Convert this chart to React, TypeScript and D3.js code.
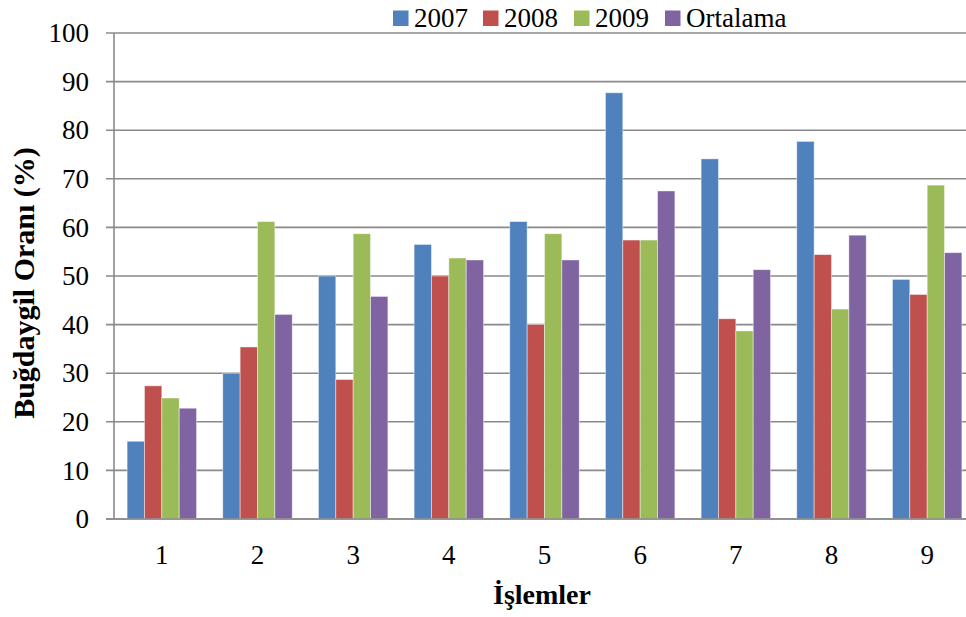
import React from "react";
import * as d3 from "d3";

const categories = ["1", "2", "3", "4", "5", "6", "7", "8", "9"];
const seriesNames = ["2007", "2008", "2009", "Ortalama"];
const values2007 = [16.0, 30.0, 50.0, 56.5, 61.2, 87.7, 74.1, 77.7, 49.3];
const values2008 = [27.4, 35.4, 28.7, 50.0, 40.0, 57.4, 41.2, 54.4, 46.2];
const values2009 = [24.9, 61.2, 58.7, 53.7, 58.7, 57.4, 38.7, 43.2, 68.7];
const valuesOrtalama = [22.8, 42.1, 45.8, 53.3, 53.3, 67.5, 51.3, 58.4, 54.8];
const yTicks = [0, 10, 20, 30, 40, 50, 60, 70, 80, 90, 100];
const colors = ["#4F81BD", "#C0504D", "#9BBB59", "#8064A2"];

const allSeries = [values2007, values2008, values2009, valuesOrtalama];

const W = 966;
const H = 617;
const plotLeft = 114;
const plotRight = 975;
const plotTop = 33;
const plotBottom = 519;
const font = "'Liberation Serif', 'Times New Roman', serif";

export default function App() {
  const x = d3
    .scaleBand<string>()
    .domain(categories)
    .range([plotLeft, plotRight])
    .paddingInner(0.274)
    .paddingOuter(0.137);
  const xs = d3
    .scaleBand<string>()
    .domain(seriesNames)
    .range([0, x.bandwidth()]);
  const y = d3.scaleLinear().domain([0, 100]).range([plotBottom, plotTop]);

  const legendItems = [
    { name: "2007", x: 393 },
    { name: "2008", x: 483 },
    { name: "2009", x: 574 },
    { name: "Ortalama", x: 665 },
  ];

  return (
    <svg
      width={W}
      height={H}
      style={{ position: "absolute", left: 0, top: 0, background: "#fff" }}
      fontFamily={font}
    >
      {/* gridlines and y ticks */}
      {yTicks.map((t) => (
        <g key={t}>
          <line
            x1={plotLeft - 8}
            x2={W}
            y1={y(t)}
            y2={y(t)}
            stroke="#8a8a8a"
            strokeWidth={1.6}
          />
          <text
            x={89}
            y={y(t)}
            dy="0.34em"
            textAnchor="end"
            fontSize={27}
            fill="#000"
          >
            {t}
          </text>
        </g>
      ))}
      {/* bars */}
      {categories.map((c, i) => (
        <g key={c} transform={`translate(${x(c)},0)`}>
          {seriesNames.map((s, j) => {
            const v = allSeries[j][i];
            return (
              <rect
                key={s}
                x={xs(s)}
                y={y(v)}
                width={xs.bandwidth()}
                height={plotBottom - y(v)}
                fill={colors[j]}
                stroke="rgba(255,255,255,0.55)"
                strokeWidth={0.8}
              />
            );
          })}
        </g>
      ))}
      {/* axes */}
      <line
        x1={plotLeft}
        x2={plotLeft}
        y1={plotTop}
        y2={plotBottom}
        stroke="#8a8a8a"
        strokeWidth={1.6}
      />
      <line
        x1={plotLeft - 8}
        x2={W}
        y1={plotBottom}
        y2={plotBottom}
        stroke="#8a8a8a"
        strokeWidth={1.6}
      />
      {categories.map((c) => (
        <text
          key={c}
          x={(x(c) as number) + x.bandwidth() / 2}
          y={564}
          textAnchor="middle"
          fontSize={27}
          fill="#000"
        >
          {c}
        </text>
      ))}
      {/* axis titles */}
      <text
        x={542}
        y={604}
        textAnchor="middle"
        fontSize={28}
        fontWeight="bold"
        fill="#000"
      >
        İşlemler
      </text>
      <text
        transform={`translate(34,${283}) rotate(-90)`}
        textAnchor="middle"
        fontSize={30}
        fontWeight="bold"
        fill="#000"
      >
        Buğdaygil Oranı (%)
      </text>
      {/* legend */}
      {legendItems.map((item, j) => (
        <g key={item.name}>
          <rect x={item.x} y={10.5} width={15.5} height={15.5} fill={colors[j]} />
          <text x={item.x + 21} y={26.5} fontSize={27} fill="#000">
            {item.name}
          </text>
        </g>
      ))}
    </svg>
  );
}
